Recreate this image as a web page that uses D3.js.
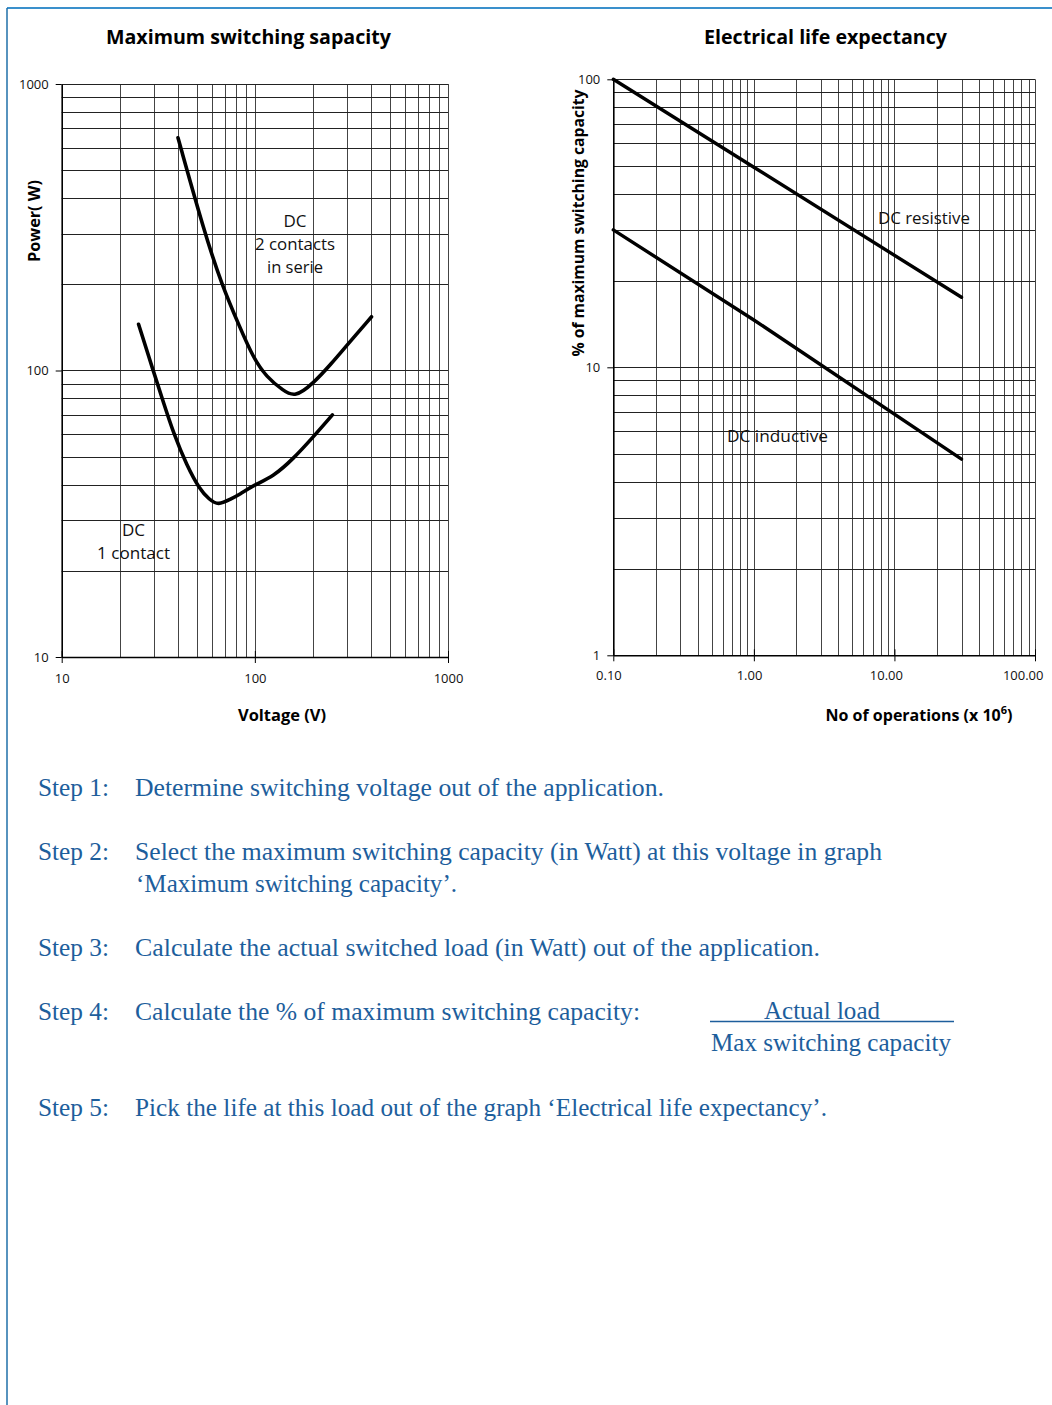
<!DOCTYPE html>
<html>
<head>
<meta charset="utf-8">
<script src="https://cdn.jsdelivr.net/npm/d3@7"></script>
<style>
  html, body { margin: 0; padding: 0; background: #fff; }
  svg { display: block; }
</style>
</head>
<body>
<div id="chart"></div>
<script>
// ---------- DATA ----------
// Left chart: Maximum switching capacity (log-log)
const voltageTicks = [10, 100, 1000];
const powerTicks = [10, 100, 1000];
const oneContactV = [25, 29.8, 33.6, 37.8, 44.4, 51.9, 58, 64.6, 75, 83.5, 98, 125, 158, 200, 252];
const oneContactP = [145, 99.6, 77.6, 60.8, 46.6, 38.4, 35.5, 33.8, 35.6, 36.9, 39.7, 42.7, 49.2, 58.5, 70];
const twoContactV = [40, 55.1, 67.3, 83.6, 98, 115, 140, 161, 200, 250, 298, 402];
const twoContactP = [649, 300, 200, 141.6, 111, 94.8, 85.2, 80.5, 89.9, 106, 122, 154];

// Right chart: Electrical life expectancy (log-log)
const opsTicks = [0.1, 1, 10, 100];
const opsTickLabels = ["0.10", "1.00", "10.00", "100.00"];
const pctTicks = [1, 10, 100];
const resistiveOps = [0.1, 1, 30];
const resistivePct = [100, 49.5, 17.5];
const inductiveOps = [0.1, 1, 30];
const inductivePct = [30, 14.6, 4.8];

// Steps text
const stepLabels = ["Step 1:", "Step 2:", "", "Step 3:", "Step 4:", "Step 5:"];
const stepTexts = [
  "Determine switching voltage out of the application.",
  "Select the maximum switching capacity (in Watt) at this voltage in graph",
  "\u2018Maximum switching capacity\u2019.",
  "Calculate the actual switched load (in Watt) out of the application.",
  "Calculate the % of maximum switching capacity:",
  "Pick the life at this load out of the graph \u2018Electrical life expectancy\u2019."
];

// ---------- LAYOUT ----------
const W = 1052, H = 1405;
const svg = d3.select("#chart").append("svg").attr("width", W).attr("height", H);
const SANS = "'Open Sans', 'Noto Sans', sans-serif";
const SERIF = "'Liberation Serif', 'DejaVu Serif', serif";
const BLUE = "#1d5e9c";

// page border (top & left)
svg.append("line").attr("x1", 7).attr("x2", W).attr("y1", 8).attr("y2", 8)
  .attr("stroke", "#3a90cc").attr("stroke-width", 2);
svg.append("line").attr("x1", 7).attr("x2", 7).attr("y1", 8).attr("y2", H)
  .attr("stroke", "#1f6fa8").attr("stroke-width", 1.5);

function minorTicks(lo, hi) {
  const out = [];
  for (let d = lo; d < hi; d *= 10) {
    for (let k = 2; k <= 9; k++) out.push(d * k);
  }
  return out;
}

function drawChart(cfg) {
  const g = svg.append("g");
  const x = d3.scaleLog().domain(cfg.xDomain).range([cfg.x0, cfg.x1]);
  const y = d3.scaleLog().domain(cfg.yDomain).range([cfg.y1, cfg.y0]);

  // grid
  const xg = minorTicks(cfg.xDomain[0], cfg.xDomain[1]).concat(cfg.xMajor);
  const yg = minorTicks(cfg.yDomain[0], cfg.yDomain[1]).concat(cfg.yMajor);
  g.append("g").selectAll("line").data(xg).join("line")
    .attr("x1", d => Math.round(x(d)) + 0.5).attr("x2", d => Math.round(x(d)) + 0.5)
    .attr("y1", cfg.y0).attr("y2", cfg.y1)
    .attr("stroke", "#444").attr("stroke-width", 1);
  g.append("g").selectAll("line").data(yg).join("line")
    .attr("y1", d => Math.round(y(d)) + 0.5).attr("y2", d => Math.round(y(d)) + 0.5)
    .attr("x1", cfg.x0).attr("x2", cfg.x1)
    .attr("stroke", "#222").attr("stroke-width", 1);

  // axes
  const xAxis = d3.axisBottom(x).tickValues(cfg.xMajor).tickSize(6).tickSizeOuter(0)
    .tickFormat((d, i) => cfg.xLabels[i]);
  const ax = g.append("g").attr("transform", `translate(0,${cfg.y1})`).call(xAxis);
  ax.select(".domain").attr("stroke", "#000").attr("stroke-width", 1.6);
  ax.selectAll(".tick line").attr("stroke", "#000").attr("y1", -6).attr("y2", 6);
  ax.selectAll(".tick text").attr("font-family", SANS).attr("font-size", 13)
    .attr("fill", "#111").attr("y", cfg.xLabelY).attr("dy", "0.71em")
    .attr("text-anchor", cfg.xAnchor).attr("dx", cfg.xDx);

  const yAxis = d3.axisLeft(y).tickValues(cfg.yMajor).tickSize(6).tickSizeOuter(0)
    .tickFormat(d3.format("d"));
  const ay = g.append("g").attr("transform", `translate(${cfg.x0},0)`).call(yAxis);
  ay.select(".domain").attr("stroke", "#000").attr("stroke-width", 1.6);
  ay.selectAll(".tick line").attr("stroke", "#000");
  ay.selectAll(".tick text").attr("font-family", SANS).attr("font-size", 13)
    .attr("fill", "#111").attr("x", -13);

  // curves
  const line = d3.line().x(d => x(d[0])).y(d => y(d[1])).curve(cfg.curve);
  cfg.series.forEach(s => {
    const pts = s.xs.map((v, i) => [v, s.ys[i]]);
    g.append("path").attr("d", line(pts)).attr("fill", "none")
      .attr("stroke", "#000").attr("stroke-width", s.w)
      .attr("stroke-linecap", "round").attr("stroke-linejoin", "round");
  });

  // title
  g.append("text").attr("x", cfg.titleX).attr("y", 44).attr("text-anchor", "middle")
    .attr("font-family", SANS).attr("font-weight", "bold").attr("font-size", 20)
    .attr("textLength", cfg.titleLen).attr("lengthAdjust", "spacingAndGlyphs")
    .attr("fill", "#000").text(cfg.title);

  // x title
  const xt = g.append("text").attr("x", cfg.xTitleX).attr("y", 721).attr("text-anchor", "middle")
    .attr("font-family", SANS).attr("font-weight", "bold").attr("font-size", 16).attr("fill", "#000");
  cfg.xTitle(xt);

  // y title
  g.append("text").attr("transform", `translate(${cfg.yTitleX},${cfg.yTitleY}) rotate(-90)`)
    .attr("text-anchor", "middle").attr("font-family", SANS).attr("font-weight", "bold")
    .attr("font-size", 16).attr("fill", "#000")
    .attr("textLength", cfg.yTitleLen).attr("lengthAdjust", "spacingAndGlyphs")
    .text(cfg.yTitle);

  // annotations
  cfg.notes.forEach(n => {
    g.append("text").attr("x", n.x).attr("y", n.y).attr("text-anchor", n.anchor)
      .attr("font-family", SANS).attr("font-size", 16).attr("fill", "#111")
      .attr("textLength", n.len).attr("lengthAdjust", "spacingAndGlyphs")
      .text(n.t);
  });
}

drawChart({
  xDomain: [10, 1000], yDomain: [10, 1000],
  x0: 61.7, x1: 448, y0: 84, y1: 657,
  xMajor: voltageTicks, yMajor: powerTicks,
  xLabels: voltageTicks.map(String), xAnchor: "middle", xDx: 0, xLabelY: 17,
  curve: d3.curveBasis,
  series: [
    { xs: oneContactV, ys: oneContactP, w: 3.6 },
    { xs: twoContactV, ys: twoContactP, w: 3.6 }
  ],
  title: "Maximum switching sapacity", titleX: 248.5, titleLen: 285,
  xTitleX: 282, xTitle: t => t.attr("textLength", 88).attr("lengthAdjust", "spacingAndGlyphs").text("Voltage (V)"),
  yTitle: "Power( W)", yTitleX: 40, yTitleY: 221, yTitleLen: 82,
  notes: [
    { t: "DC", x: 295, y: 227, anchor: "middle", len: 23 },
    { t: "2 contacts", x: 295, y: 250, anchor: "middle", len: 80 },
    { t: "in serie", x: 295, y: 273, anchor: "middle", len: 56 },
    { t: "DC", x: 133.5, y: 536, anchor: "middle", len: 23 },
    { t: "1 contact", x: 133.5, y: 559, anchor: "middle", len: 73 }
  ]
});

drawChart({
  xDomain: [0.1, 100], yDomain: [1, 100],
  x0: 613.3, x1: 1035, y0: 79.3, y1: 655.3,
  xMajor: opsTicks, yMajor: pctTicks,
  xLabels: opsTickLabels, xAnchor: "end", xDx: 8, xLabelY: 15,
  curve: d3.curveLinear,
  series: [
    { xs: resistiveOps, ys: resistivePct, w: 3.4 },
    { xs: inductiveOps, ys: inductivePct, w: 3.4 }
  ],
  title: "Electrical life expectancy", titleX: 825.5, titleLen: 243,
  xTitleX: 919, xTitle: t => {
    t.append("tspan").text("No of operations (x 10");
    t.append("tspan").attr("font-size", 11).attr("dy", -7).text("6");
    t.append("tspan").attr("dy", 7).text(")");
  },
  yTitle: "% of maximum switching capacity", yTitleX: 584, yTitleY: 223, yTitleLen: 267,
  notes: [
    { t: "DC resistive", x: 878, y: 224, anchor: "start", len: 92 },
    { t: "DC inductive", x: 727, y: 442, anchor: "start", len: 101 }
  ]
});

// ---------- STEPS ----------
const stepY = [796, 860, 892, 956, 1020, 1116];
const stepLens = [529, 747, 321, 685, 505, 692];
const steps = svg.append("g").attr("font-family", SERIF).attr("font-size", 26).attr("fill", BLUE);
stepTexts.forEach((t, i) => {
  if (stepLabels[i]) {
    steps.append("text").attr("x", 38).attr("y", stepY[i])
      .attr("textLength", 71).attr("lengthAdjust", "spacingAndGlyphs").text(stepLabels[i]);
  }
  steps.append("text").attr("x", i === 2 ? 136 : 135).attr("y", stepY[i])
    .attr("textLength", stepLens[i]).attr("lengthAdjust", "spacingAndGlyphs").text(t);
});
// fraction
steps.append("text").attr("x", 822).attr("y", 1019).attr("text-anchor", "middle")
  .attr("textLength", 116).attr("lengthAdjust", "spacingAndGlyphs").text("Actual load");
svg.append("line").attr("x1", 710).attr("x2", 954).attr("y1", 1021.5).attr("y2", 1021.5)
  .attr("stroke", BLUE).attr("stroke-width", 1.5);
steps.append("text").attr("x", 711).attr("y", 1051)
  .attr("textLength", 240).attr("lengthAdjust", "spacingAndGlyphs").text("Max switching capacity");
</script>
</body>
</html>
